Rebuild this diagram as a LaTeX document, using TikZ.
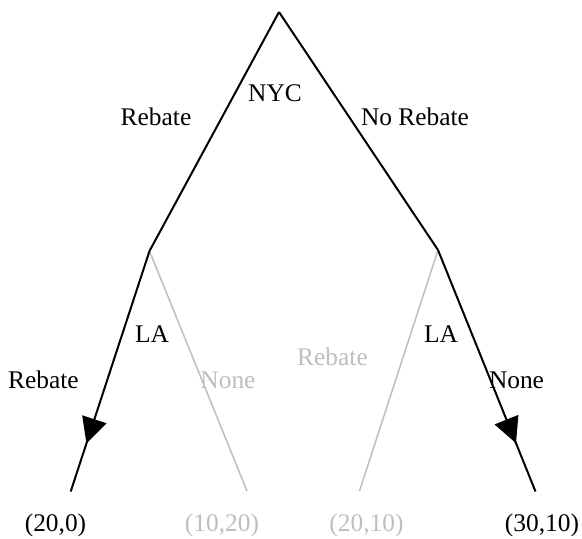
\documentclass[tikz,border=0pt]{standalone}
\usepackage{fontspec}
\setmainfont{Liberation Serif}
\usetikzlibrary{arrows.meta,decorations.markings}
\definecolor{lightg}{RGB}{190,190,190}
\begin{document}
\begin{tikzpicture}[x=0.5pt,y=-0.5pt,
  lbl/.style={inner sep=0pt,anchor=base,font=\fontsize{12.7}{15}\selectfont},
  glbl/.style={lbl,text=lightg},
  edge/.style={line width=1pt,black},
  gedge/.style={line width=0.75pt,lightg},
  chosen/.style={edge,postaction={decorate},decoration={markings,
     mark=at position 0.8 with {\arrow{Triangle[length=12.7pt,width=12.6pt]}}}}]
\useasboundingbox (0,0) rectangle (582,538);
\coordinate (root) at (279,12);
\coordinate (la1) at (149.5,251);
\coordinate (la2) at (438,250);
\coordinate (l1) at (70.7,491.5);
\coordinate (l2) at (247,491);
\coordinate (l3) at (359.5,491);
\coordinate (l4) at (535.5,491.5);
\draw[edge] (root) -- (la1);
\draw[edge] (root) -- (la2);
\draw[gedge] (la1) -- (l2);
\draw[gedge] (la2) -- (l3);
\draw[chosen] (la1) -- (l1);
\draw[chosen] (la2) -- (l4);
\node[lbl] (nyc) at (275,101.7) {NYC};
\node[lbl] (rb1) at (156,125) {Rebate};
\node[lbl] (nrb) at (415,125) {No Rebate};
\node[lbl] (lal) at (152,342) {LA};
\node[lbl] (lar) at (441,342) {LA};
\node[lbl] (rb2) at (43.5,388) {Rebate};
\node[glbl] (nn1) at (228,388) {None};
\node[glbl] (rb3) at (332.5,365) {Rebate};
\node[lbl] (nn2) at (516.5,388) {None};
\node[lbl] (p1) at (55.5,531.5) {(20,0)};
\node[glbl] (p2) at (222,531.5) {(10,20)};
\node[glbl] (p3) at (366.5,531.5) {(20,10)};
\node[lbl] (p4) at (542,531.5) {(30,10)};
\end{tikzpicture}
\end{document}
